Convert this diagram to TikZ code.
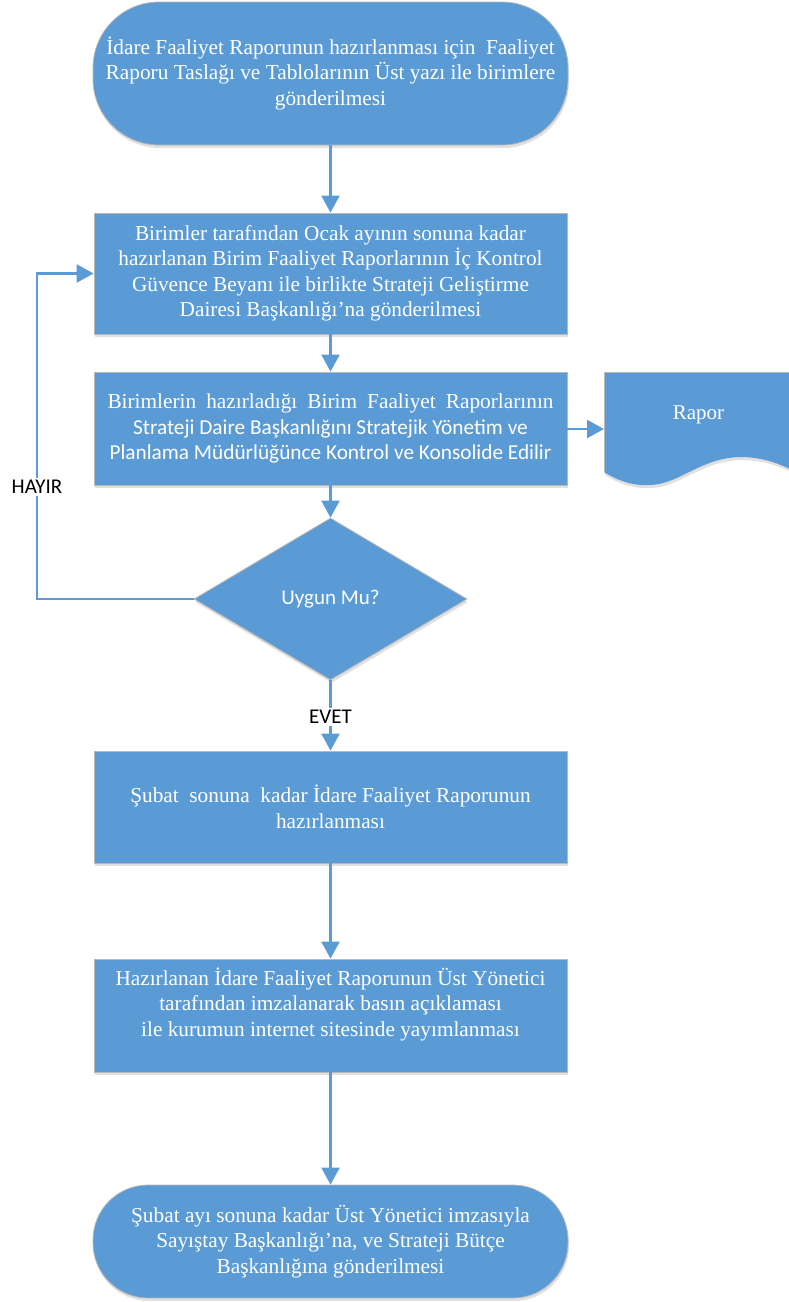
\documentclass[tikz,border=0pt]{standalone}
\usepackage{fontspec}
\setmainfont{Liberation Serif}
\newfontfamily\calfont{Carlito}
\usetikzlibrary{arrows.meta,shapes.geometric,shadows}
\definecolor{fblue}{HTML}{5B9BD5}
\definecolor{edgegray}{HTML}{B8B8B8}
\begin{document}
\begin{tikzpicture}[x=1pt,y=-1pt,
  boxbase/.style={draw=edgegray,line width=0.8pt,fill=fblue,text=white,align=center,inner sep=0pt,
    drop shadow={shadow xshift=1pt,shadow yshift=-3pt,opacity=0.12,fill=black}},
  box/.style={boxbase,font=\fontsize{21.3}{25.5}\selectfont},
  txt/.style={text=white,align=center,inner sep=0pt,font=\fontsize{21.3}{25.5}\selectfont},
  arr/.style={draw=fblue,line width=2.2pt,-{Triangle[width=18pt,length=17pt]}},
  lbl/.style={fill=white,inner sep=2pt,text=black,font=\calfont\fontsize{21}{25}\selectfont}]
\useasboundingbox (0,0) rectangle (788,1302);

% shapes
\node[box,rounded corners=66pt,minimum width=475pt,minimum height=143pt] (n1) at (330.5,73.5)
  {İdare Faaliyet Raporunun hazırlanması için\ \ Faaliyet\\ Raporu Taslağı ve Tablolarının Üst yazı ile birimlere\\ gönderilmesi};
\node[box,minimum width=473pt,minimum height=121pt] (n2) at (330.5,273.5)
  {Birimler tarafından Ocak ayının sonuna kadar\\ hazırlanan Birim Faaliyet Raporlarının İç Kontrol\\ Güvence Beyanı ile birlikte Strateji Geliştirme\\ Dairesi Başkanlığı’na gönderilmesi};
\node[box,minimum width=473pt,minimum height=113pt] (n3) at (330.5,428.5)
  {\makebox[446pt][s]{Birimlerin hazırladığı Birim Faaliyet Raporlarının}\\
   {\calfont\fontsize{21.3}{25.5}\selectfont Strateji Daire Başkanlığını Stratejik Yönetim ve}\\
   {\calfont\fontsize{21.3}{25.5}\selectfont Planlama Müdürlüğünce Kontrol ve Konsolide Edilir}};
\node[boxbase,shape=diamond,minimum width=273pt,minimum height=162pt,font=\calfont\fontsize{21}{25}\selectfont] (d) at (330.5,599) {Uygun Mu?};
\node[box,minimum width=473pt,minimum height=112pt] (n4) at (330.5,807)
  {Şubat\ \ sonuna\ \ kadar İdare Faaliyet Raporunun\\ hazırlanması};
\node[box,minimum width=473pt,minimum height=113pt] (n5) at (330.5,1015.5) {};
\node[txt] (t5) at (330.5,1004)
  {Hazırlanan İdare Faaliyet Raporunun Üst Yönetici\\ tarafından imzalanarak basın açıklaması\\ ile kurumun internet sitesinde yayımlanması};
\node[box,rounded corners=55pt,minimum width=475pt,minimum height=113pt] (n6) at (330.5,1241.5)
  {Şubat ayı sonuna kadar Üst Yönetici imzasıyla\\ Sayıştay Başkanlığı’na, ve Strateji Bütçe\\ Başkanlığına gönderilmesi};

% document shape (Rapor)
\fill[fblue,drop shadow={shadow xshift=1pt,shadow yshift=-3pt,opacity=0.12,fill=black}]
  (604,372) -- (790,372) -- (790,469)
  .. controls (775,462) and (760,457) .. (740,457)
  .. controls (700,458) and (680,484) .. (650,485)
  .. controls (635,486) and (620,482) .. (604,472) -- cycle;
\draw[edgegray,line width=0.8pt] (604,472) -- (604,372) -- (790,372);
\node[txt,font=\fontsize{21}{25}\selectfont] (rapor) at (698.5,415) {Rapor};
\coordinate (rin) at (604,429);

% connectors
\draw[arr] (n1.south) -- (n2.north);
\draw[arr] (n2.south) -- (n3.north);
\draw[arr] (n3.south) -- (d.north);
\draw[arr] (n3.east |- rin) -- (rin);
\coordinate (lp) at (37,599);
\draw[arr] (d.west) -- (lp) |- (n2.west);
\draw[arr] (d.south) -- (n4.north);
\draw[arr] (n4.south) -- (n5.north);
\draw[arr] (n5.south) -- (n6.north);
\node[lbl] (hayir) at (37,487) {HAYIR};
\node[lbl] (evet) at (330.5,717) {EVET};
\end{tikzpicture}
\end{document}
